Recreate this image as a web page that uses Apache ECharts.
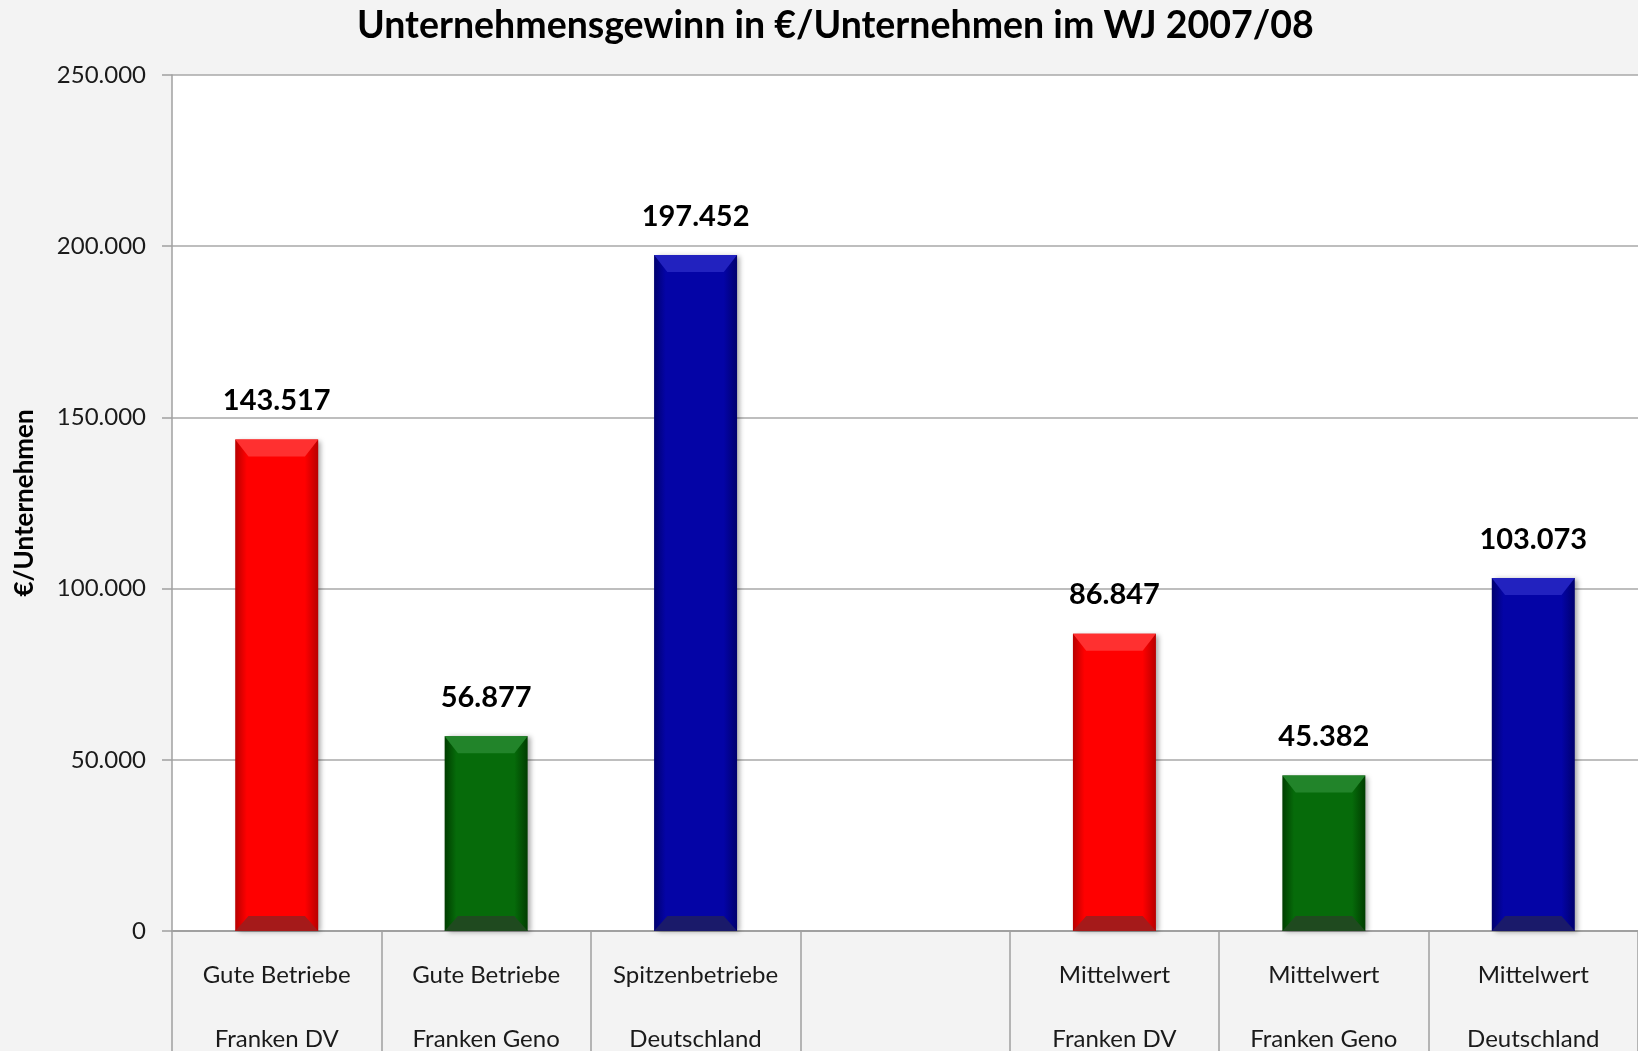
<!DOCTYPE html>
<html>
<head>
<meta charset="utf-8">
<script src="https://cdn.jsdelivr.net/npm/echarts@6/dist/echarts.min.js"></script>
<style>
  html, body { margin: 0; padding: 0; background: #f3f3f3; }
  #chart { width: 1638px; height: 1051px; }
</style>
</head>
<body>
<div id="chart"></div>
<script>
const titleText = 'Unternehmensgewinn in €/Unternehmen im WJ 2007/08';
const yAxisName = '€/Unternehmen';
const categories = [
  'Gute Betriebe\nFranken DV',
  'Gute Betriebe\nFranken Geno',
  'Spitzenbetriebe\nDeutschland',
  '',
  'Mittelwert\nFranken DV',
  'Mittelwert\nFranken Geno',
  'Mittelwert\nDeutschland'
];
const values = [143517, 56877, 197452, '-', 86847, 45382, 103073];
// Farbe je Balken: [Rand dunkel, Mitte, Kante oben, Kante unten]
const barColors = [
  ['#b80000', '#ff0000', '#ff3030', '#a51a1a'],
  ['#003d00', '#066b0a', '#22842a', '#1f4a1f'],
  ['#00006e', '#0404a6', '#2222bf', '#1a1a6a'],
  null,
  ['#b80000', '#ff0000', '#ff3030', '#a51a1a'],
  ['#003d00', '#066b0a', '#22842a', '#1f4a1f'],
  ['#00006e', '#0404a6', '#2222bf', '#1a1a6a']
];

const fontFamily = 'Lato, "Open Sans", sans-serif';
const fmt = v => String(v).replace(/\B(?=(\d{3})+(?!\d))/g, '.');

const chart = echarts.init(document.getElementById('chart'), null, { renderer: 'canvas' });

const barWidth = 83;

const mainData = values.map((v, i) => {
  const c = barColors[i];
  if (v === '-' || !c) return '-';
  return {
    value: v,
    itemStyle: {
      color: new echarts.graphic.LinearGradient(0, 0, 1, 0, [
        { offset: 0, color: c[0] },
        { offset: 0.14, color: c[1] },
        { offset: 0.84, color: c[1] },
        { offset: 1, color: c[0] }
      ])
    }
  };
});

const bevelData = (idx) => values.map((v, i) => {
  const c = barColors[i];
  if (v === '-' || !c) return '-';
  return { value: v, itemStyle: { color: c[idx] } };
});

chart.setOption({
  backgroundColor: '#f3f3f3',
  animation: false,
  title: {
    text: titleText,
    left: 352,
    top: 2,
    textStyle: { fontFamily, fontWeight: 'bold', fontSize: 37.5, color: '#000' }
  },
  grid: {
    left: 172, right: 0, top: 75, bottom: 120,
    outerBoundsMode: 'none',
    containLabel: false,
    show: true, backgroundColor: '#ffffff', borderWidth: 0
  },
  xAxis: {
    type: 'category',
    data: categories,
    axisLine: { show: true, lineStyle: { color: '#a0a0a0', width: 2 } },
    axisTick: { show: true, alignWithLabel: false, length: 130, lineStyle: { color: '#a0a0a0', width: 1.5 } },
    axisLabel: {
      interval: 0, margin: 12,
      fontFamily, fontSize: 24, color: '#1a1a1a', lineHeight: 64
    }
  },
  yAxis: {
    type: 'value',
    min: 0, max: 250000, interval: 50000,
    name: yAxisName,
    nameLocation: 'middle',
    nameGap: 134,
    nameTextStyle: { fontFamily, fontWeight: 'bold', fontSize: 26, color: '#000' },
    axisLine: { show: true, lineStyle: { color: '#a0a0a0', width: 1.5 } },
    axisTick: { show: true, length: 10, lineStyle: { color: '#a0a0a0', width: 1.5 } },
    axisLabel: { margin: 26, fontFamily, fontSize: 24, color: '#1a1a1a', formatter: fmt },
    splitLine: { show: true, lineStyle: { color: '#a8a8a8', width: 1.5 } }
  },
  series: [
    {
      type: 'bar',
      data: mainData,
      barWidth,
      itemStyle: { shadowColor: 'rgba(0,0,0,0.35)', shadowBlur: 5, shadowOffsetX: 3, shadowOffsetY: 1 },
      label: {
        show: true, position: 'top', distance: 24,
        fontFamily, fontWeight: 'bold', fontSize: 29, color: '#000',
        formatter: p => fmt(p.value)
      },
      z: 2
    },
    {
      type: 'pictorialBar',
      data: bevelData(2),
      symbol: 'path://M0,0 L100,0 L84,20 L16,20 Z',
      symbolSize: [barWidth, 17],
      symbolPosition: 'end',
      barWidth,
      barGap: '-100%',
      silent: true,
      z: 3
    },
    {
      type: 'pictorialBar',
      data: bevelData(3),
      symbol: 'path://M16,0 L84,0 L100,20 L0,20 Z',
      symbolSize: [barWidth, 15],
      symbolPosition: 'start',
      barWidth,
      barGap: '-100%',
      silent: true,
      z: 3
    }
  ]
});

window.addEventListener('resize', () => chart.resize());
</script>
</body>
</html>
